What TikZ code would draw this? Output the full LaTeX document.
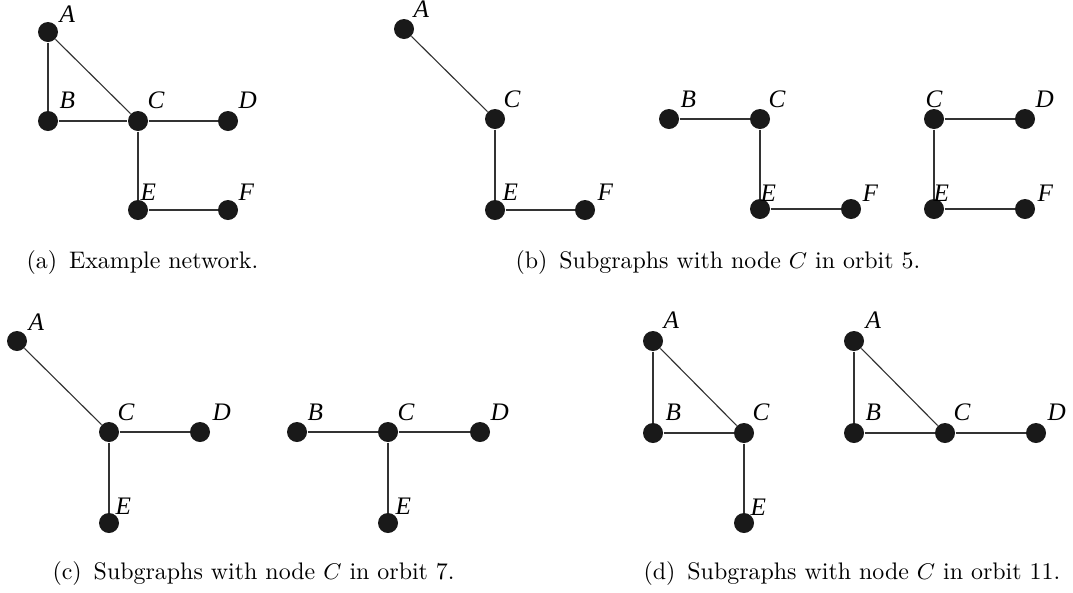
\documentclass[tikz,border=0pt]{standalone}
\usepackage{fontspec}
\newfontfamily\labfont{Liberation Serif}
\begin{document}
\begin{tikzpicture}[x=0.397pt,y=-0.397pt,
  vtx/.style={circle, fill=black!90, draw=none, inner sep=0pt, minimum size=7.94pt},
  edg/.style={draw=black!80, line width=0.45pt},
  lbl/.style={anchor=base west, inner sep=0pt, font=\labfont\itshape\fontsize{10}{12}\selectfont},
  capt/.style={anchor=base west, inner sep=0pt, font=\fontsize{9.5}{11}\selectfont}]
\useasboundingbox (0,0) rectangle (1073,592);

% ---------- (a) ----------
\node[vtx] (aA) at (48,32) {};
\node[vtx] (aB) at (48,121) {};
\node[vtx] (aC) at (138,121) {};
\node[vtx] (aD) at (228,121) {};
\node[vtx] (aE) at (138,210) {};
\node[vtx] (aF) at (228,210) {};
\draw[edg] (aA) -- (aB);
\draw[edg] (aA) -- (aC);
\draw[edg] (aB) -- (aC);
\draw[edg] (aC) -- (aD);
\draw[edg] (aC) -- (aE);
\draw[edg] (aE) -- (aF);
\node[lbl] (laA) at (59,22) {A};
\node[lbl] (laB) at (59,108) {B};
\node[lbl] (laC) at (147,108) {C};
\node[lbl] (laD) at (238,108) {D};
\node[lbl] (laE) at (140,200) {E};
\node[lbl] (laF) at (238,200) {F};

% ---------- (b) 1 ----------
\node[vtx] (b1A) at (404,29) {};
\node[vtx] (b1C) at (495,119) {};
\node[vtx] (b1E) at (495,210) {};
\node[vtx] (b1F) at (585,210) {};
\draw[edg] (b1A) -- (b1C);
\draw[edg] (b1C) -- (b1E);
\draw[edg] (b1E) -- (b1F);
\node[lbl] (lb1A) at (413,17) {A};
\node[lbl] (lb1C) at (503,107) {C};
\node[lbl] (lb1E) at (502,200) {E};
\node[lbl] (lb1F) at (597,200) {F};

% ---------- (b) 2 ----------
\node[vtx] (b2B) at (669,119) {};
\node[vtx] (b2C) at (760,119) {};
\node[vtx] (b2E) at (760,209) {};
\node[vtx] (b2F) at (851,209) {};
\draw[edg] (b2B) -- (b2C);
\draw[edg] (b2C) -- (b2E);
\draw[edg] (b2E) -- (b2F);
\node[lbl] (lb2B) at (680,107) {B};
\node[lbl] (lb2C) at (768,107) {C};
\node[lbl] (lb2E) at (760,201) {E};
\node[lbl] (lb2F) at (862,201) {F};

% ---------- (b) 3 ----------
\node[vtx] (b3C) at (934,119) {};
\node[vtx] (b3D) at (1025,119) {};
\node[vtx] (b3E) at (934,209) {};
\node[vtx] (b3F) at (1025,209) {};
\draw[edg] (b3C) -- (b3D);
\draw[edg] (b3C) -- (b3E);
\draw[edg] (b3E) -- (b3F);
\node[lbl] (lb3C) at (925,107) {C};
\node[lbl] (lb3D) at (1035,107) {D};
\node[lbl] (lb3E) at (933,201) {E};
\node[lbl] (lb3F) at (1037,201) {F};

% ---------- (c) 1 ----------
\node[vtx] (c1A) at (17,341) {};
\node[vtx] (c1C) at (109,432) {};
\node[vtx] (c1D) at (200,432) {};
\node[vtx] (c1E) at (109,523) {};
\draw[edg] (c1A) -- (c1C);
\draw[edg] (c1C) -- (c1D);
\draw[edg] (c1C) -- (c1E);
\node[lbl] (lc1A) at (28,330) {A};
\node[lbl] (lc1C) at (117,420) {C};
\node[lbl] (lc1D) at (212,420) {D};
\node[lbl] (lc1E) at (115,514) {E};

% ---------- (c) 2 ----------
\node[vtx] (c2B) at (297,432) {};
\node[vtx] (c2C) at (388,432) {};
\node[vtx] (c2D) at (480,432) {};
\node[vtx] (c2E) at (388,523) {};
\draw[edg] (c2B) -- (c2C);
\draw[edg] (c2C) -- (c2D);
\draw[edg] (c2C) -- (c2E);
\node[lbl] (lc2B) at (307,420) {B};
\node[lbl] (lc2C) at (397,420) {C};
\node[lbl] (lc2D) at (490,420) {D};
\node[lbl] (lc2E) at (395,514) {E};

% ---------- (d) 1 ----------
\node[vtx] (d1A) at (653,341) {};
\node[vtx] (d1B) at (653,433) {};
\node[vtx] (d1C) at (744,433) {};
\node[vtx] (d1E) at (744,523) {};
\draw[edg] (d1A) -- (d1B);
\draw[edg] (d1A) -- (d1C);
\draw[edg] (d1B) -- (d1C);
\draw[edg] (d1C) -- (d1E);
\node[lbl] (ld1A) at (663,328) {A};
\node[lbl] (ld1B) at (665,420) {B};
\node[lbl] (ld1C) at (752,420) {C};
\node[lbl] (ld1E) at (750,515) {E};

% ---------- (d) 2 ----------
\node[vtx] (d2A) at (854,341) {};
\node[vtx] (d2B) at (854,433) {};
\node[vtx] (d2C) at (945,433) {};
\node[vtx] (d2D) at (1036,433) {};
\draw[edg] (d2A) -- (d2B);
\draw[edg] (d2A) -- (d2C);
\draw[edg] (d2B) -- (d2C);
\draw[edg] (d2C) -- (d2D);
\node[lbl] (ld2A) at (865,328) {A};
\node[lbl] (ld2B) at (865,420) {B};
\node[lbl] (ld2C) at (953,420) {C};
\node[lbl] (ld2D) at (1047,420) {D};

% ---------- captions ----------
\node[capt] (capa) at (26,268) {(a)\enskip Example network.};
\node[capt] (capb) at (515,268) {(b)\enskip Subgraphs with node $C$ in orbit 5.};
\node[capt] (capc) at (52,579) {(c)\enskip Subgraphs with node $C$ in orbit 7.};
\node[capt] (capd) at (643,579) {(d)\enskip Subgraphs with node $C$ in orbit 11.};
\end{tikzpicture}
\end{document}
